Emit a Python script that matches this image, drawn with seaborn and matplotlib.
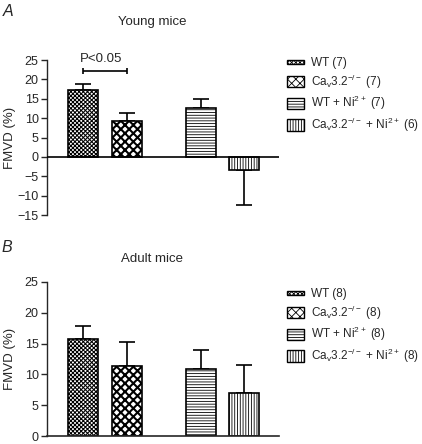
import matplotlib
matplotlib.use('Agg')
import matplotlib.pyplot as plt
from matplotlib.patches import Patch, Rectangle
from matplotlib.legend_handler import HandlerPatch
import pandas as pd
import seaborn as sns

GROUPS = ['WT', 'Cav3.2-/-', 'WT + Ni2+', 'Cav3.2-/- + Ni2+']
X_POS = [0, 1, 2.7, 3.7]

YOUNG_MEAN = [17.3, 9.3, 12.7, -3.4]
YOUNG_SEM = [1.4, 2.1, 2.3, 9.0]
YOUNG_N = [7, 7, 7, 6]

ADULT_MEAN = [15.8, 11.4, 10.9, 7.0]
ADULT_SEM = [2.0, 3.9, 3.0, 4.6]
ADULT_N = [8, 8, 8, 8]

SIG_Y = 22.2

# '@' is replaced by the group size
LABELS = [
    'WT (@)',
    r'Ca$_\mathregular{v}$3.2$^\mathregular{-/-}$ (@)',
    r'WT + Ni$^\mathregular{2+}$ (@)',
    r'Ca$_\mathregular{v}$3.2$^\mathregular{-/-}$ + Ni$^\mathregular{2+}$ (@)',
]

HATCHES = ['xxxxxxxx', 'xxxx', '------', '||||||']
HATCH_LW = [0.75, 1.5, 0.6, 0.6]

sns.set_style('ticks')
plt.rcParams['font.family'] = ['Liberation Sans', 'DejaVu Sans']
plt.rcParams['font.size'] = 9
plt.rcParams['hatch.linewidth'] = 0.6


def short_patch(legend, orig_handle, xdescent, ydescent, width, height, fontsize):
    return Rectangle((-xdescent, -ydescent + height * 0.3), width, height * 0.4)


def full_patch(legend, orig_handle, xdescent, ydescent, width, height, fontsize):
    return Rectangle((-xdescent, -ydescent - height * 0.1), width, height * 1.2)


def draw_panel(ax, means, sems, ns, ylim, legend_y):
    df = pd.DataFrame({'x': X_POS, 'y': means})
    sns.barplot(data=df, x='x', y='y', native_scale=True, width=0.69,
                color='white', errorbar=None, ax=ax, zorder=2)
    for i, bar in enumerate(ax.patches):
        bar.set_facecolor('white')
        bar.set_edgecolor('black')
        bar.set_linewidth(1.2)
        bar.set_hatch(HATCHES[i])
        if hasattr(bar, 'set_hatch_linewidth'):
            bar.set_hatch_linewidth(HATCH_LW[i])
    # one-sided error bars
    lower = [s if m < 0 else 0 for m, s in zip(means, sems)]
    upper = [0 if m < 0 else s for m, s in zip(means, sems)]
    ax.errorbar(X_POS, means, yerr=[lower, upper], fmt='none', ecolor='black',
                elinewidth=1.2, capsize=6, capthick=1.2, zorder=1)

    ax.set_xlim(-0.83, 4.5)
    ax.set_ylim(*ylim)
    ax.set_yticks(range(ylim[0], ylim[1] + 1, 5))
    ax.set_xticks([])
    ax.set_xlabel('')
    ax.set_ylabel('FMVD (%)', fontsize=9.5)
    ax.yaxis.set_label_coords(-0.135, 0.5)
    ax.tick_params(axis='y', labelsize=9, length=4, width=1, pad=2)
    for s in ['top', 'right']:
        ax.spines[s].set_visible(False)
    ax.spines['left'].set_linewidth(1)

    handles = []
    for i in range(4):
        h = Patch(facecolor='white', edgecolor='black', hatch=HATCHES[i],
                  linewidth=1.0, label=LABELS[i].replace('@', str(ns[i])))
        handles.append(h)
    hmap = {handles[0]: HandlerPatch(patch_func=short_patch)}
    for h in handles[1:]:
        hmap[h] = HandlerPatch(patch_func=full_patch)
    leg = ax.legend(handles=handles, handler_map=hmap, loc='upper left',
                    bbox_to_anchor=(287 / 422, legend_y),
                    bbox_transform=ax.figure.transFigure, frameon=False,
                    fontsize=8.5, handlelength=1.45, handleheight=0.85,
                    handletextpad=0.55, labelspacing=0.3, borderaxespad=0,
                    borderpad=0)
    return leg


fig = plt.figure(figsize=(4.22, 4.44), dpi=100)
axA = fig.add_axes([47 / 422, 1 - 215 / 444, 232 / 422, 155 / 444])
axB = fig.add_axes([47 / 422, 1 - 436 / 444, 232 / 422, 154 / 444])

draw_panel(axA, YOUNG_MEAN, YOUNG_SEM, YOUNG_N, (-15, 25), 1 - 57 / 444)
axA.spines['bottom'].set_visible(False)
axA.axhline(0, color='black', linewidth=1.2, zorder=3)
# significance bracket between WT and Cav3.2-/-
axA.errorbar((X_POS[0] + X_POS[1]) / 2, SIG_Y, xerr=(X_POS[1] - X_POS[0]) / 2,
             fmt='none', ecolor='black', elinewidth=1.2, capsize=2.2,
             capthick=1.2, clip_on=False)
axA.text((X_POS[0] + X_POS[1]) / 2 - 0.08, SIG_Y + 1.6, 'P<0.05',
         ha='center', va='bottom', fontsize=9.5, clip_on=False)

draw_panel(axB, ADULT_MEAN, ADULT_SEM, ADULT_N, (0, 25), 1 - 288 / 444)
axB.spines['bottom'].set_linewidth(1.2)

fig.text(152 / 422, 1 - 22 / 444, 'Young mice', ha='center', va='center', fontsize=9.5)
fig.text(152 / 422, 1 - 259 / 444, 'Adult mice', ha='center', va='center', fontsize=9.5)
fig.text(3 / 422, 1 - 12 / 444, 'A', ha='left', va='center', fontsize=11.5, style='italic')
fig.text(2 / 422, 1 - 247 / 444, 'B', ha='left', va='center', fontsize=11.5, style='italic')

fig.savefig('out.png', dpi=100)
